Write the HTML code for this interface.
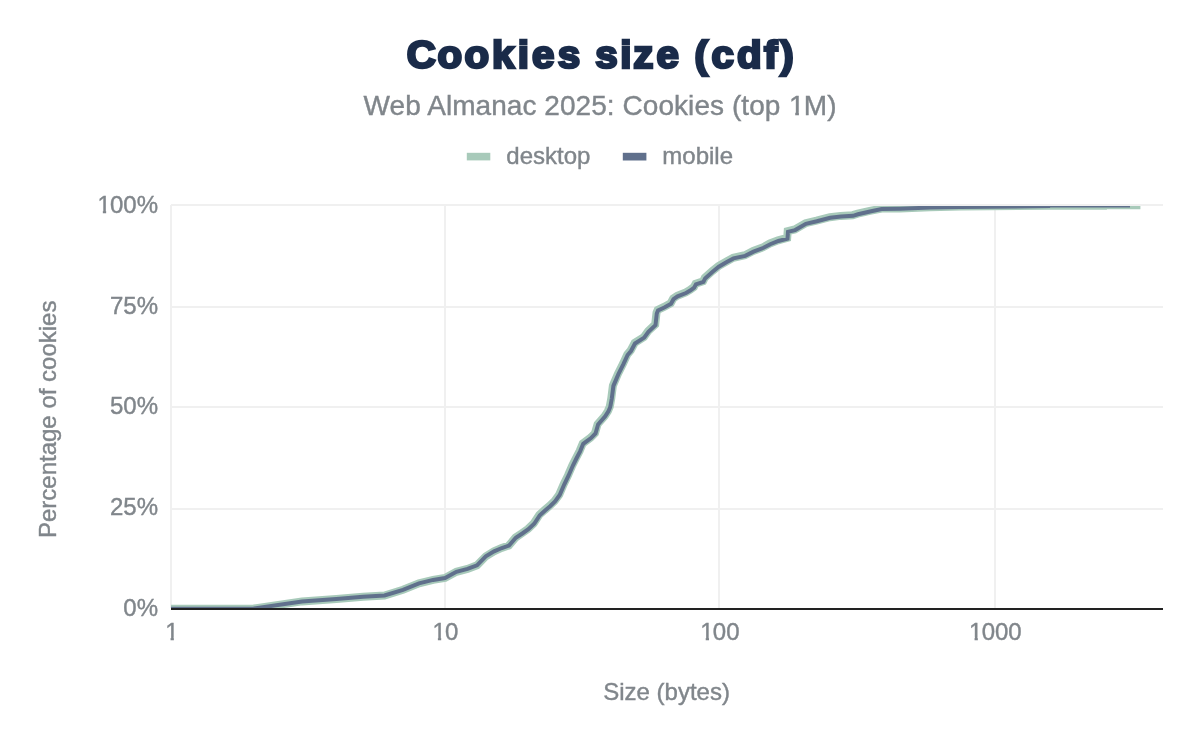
<!DOCTYPE html>
<html><head><meta charset="utf-8"><title>Cookies size (cdf)</title>
<style>
html,body{margin:0;padding:0;background:#fff;}
body{width:1200px;height:742px;overflow:hidden;}
svg{display:block;font-family:"Liberation Sans",Arial,Helvetica,sans-serif;}
.t{fill:#80868b;font-size:24px;stroke:#80868b;stroke-width:0.4px;}
</style></head><body>
<svg width="1200" height="742" viewBox="0 0 1200 742">
<rect width="1200" height="742" fill="#fff"/>
<text id="title" transform="scale(1.06,1)" x="383.77 412.85 438.21 464.22 488.56 501.93 526.18 546.93 561.56 585.21 597.48 619.41 640.17 655.12 671.34 695.28 720.68 736.2" y="68.4" font-size="38" font-weight="bold" fill="#1a2b49" stroke="#1a2b49" stroke-width="2.6" stroke-linejoin="miter" stroke-miterlimit="3">Cookies size (cdf)</text>
<text x="363.62" y="114.6" dx="0 0 0 0 0 0 0 0 0 0 0 0 0 0 0 0 0 0 0 0 0 0 0 0 0 0 0 0 0 0 0 0.8 -0.8" id="sub" font-size="28" fill="#80868b" stroke="#80868b" stroke-width="0.4" letter-spacing="0.05">Web Almanac 2025: Cookies (top 1M)</text>
<g id="legend">
<rect x="466.8" y="152.8" width="23.5" height="7.6" fill="#a8caba"/>
<text class="t" x="506.3" y="163.8">desktop</text>
<rect x="622.8" y="152.8" width="23.6" height="7.7" fill="#60708c"/>
<text class="t" x="662.3" y="163.8">mobile</text>
</g>
<g id="grid" fill="#f0f0f0">
<rect x="170" y="205" width="2" height="403"/>
<rect x="444" y="205" width="2" height="403"/>
<rect x="718" y="205" width="2" height="403"/>
<rect x="994" y="205" width="2" height="403"/>
<rect x="171" y="204" width="992" height="2"/>
<rect x="171" y="306" width="992" height="2"/>
<rect x="171" y="406" width="992" height="2"/>
<rect x="171" y="508" width="992" height="2"/>
</g>
<clipPath id="cp"><rect x="171" y="206" width="992" height="404"/></clipPath>
<g clip-path="url(#cp)" fill="none" stroke-linejoin="miter" stroke-miterlimit="2" stroke-linecap="butt">
<path d="M171.0,608.7 L253.8,608.5 L302.0,601.4 L336.4,598.9 L363.0,596.7 L384.5,595.5 L403.0,589.8 L419.0,583.4 L433.1,579.9 L445.0,578.0 L456.4,571.8 L467.5,568.9 L477.0,565.3 L485.8,556.3 L494.0,551.3 L501.6,547.9 L508.8,545.5 L515.5,537.6 L521.9,533.3 L528.0,529.0 L533.7,523.5 L539.3,514.9 L544.6,510.1 L549.6,505.9 L554.5,501.1 L559.2,494.7 L563.7,484.2 L568.0,475.4 L572.4,465.2 L575.9,458.2 L579.6,451.0 L582.7,443.5 L590.5,437.8 L595.0,433.2 L597.6,424.2 L604.7,416.1 L607.9,411.1 L609.8,406.5 L611.3,398.2 L612.9,385.6 L617.9,373.9 L623.1,363.6 L627.3,354.4 L630.7,350.4 L634.7,342.9 L643.9,337.0 L648.1,331.2 L655.2,324.5 L656.5,312.8 L657.7,309.9 L664.0,306.9 L670.7,303.2 L673.2,298.6 L677.3,295.7 L685.7,292.4 L689.9,290.0 L693.9,287.0 L695.6,283.7 L703.1,281.2 L704.8,277.8 L712.3,271.1 L718.5,266.1 L726.5,261.5 L733.2,257.8 L744.9,255.2 L753.2,251.0 L763.2,247.2 L769.9,243.5 L778.1,240.3 L787.2,237.9 L787.7,231.2 L794.8,229.4 L805.6,223.2 L816.5,220.7 L829.9,217.2 L840.7,215.9 L852.7,215.2 L857.7,213.7 L869.8,210.9 L881.6,208.6 L900.0,208.4 L930.0,207.3 L960.0,206.6 L1049.0,205.8 L1104.8,205.8 L1105.2,205.3 L1140.4,205.3" stroke="#a8caba" stroke-width="8"/>
<path d="M171.0,608.7 L253.8,608.5 L302.0,601.4 L336.4,598.9 L363.0,596.7 L384.5,595.5 L403.0,589.8 L419.0,583.4 L433.1,579.9 L445.0,578.0 L456.4,571.8 L467.5,568.9 L477.0,565.3 L485.8,556.3 L494.1,551.4 L501.8,548.0 L509.0,545.6 L515.8,537.8 L522.3,533.5 L528.4,529.2 L534.2,523.8 L539.8,515.2 L545.1,510.4 L550.1,506.2 L555.0,501.4 L559.7,495.0 L564.2,484.5 L568.5,475.7 L572.9,465.5 L576.4,458.5 L580.1,451.3 L583.2,443.8 L591.0,438.1 L595.5,433.5 L598.1,424.5 L605.2,416.4 L608.4,411.4 L610.3,406.8 L611.8,398.5 L613.4,385.9 L618.4,374.2 L623.4,364.2 L627.6,355.0 L631.0,351.0 L635.0,343.5 L644.2,337.6 L648.4,331.8 L655.5,325.1 L656.8,313.4 L658.0,310.5 L664.3,307.5 L671.0,303.8 L673.5,299.2 L677.6,296.3 L686.0,293.0 L690.2,290.6 L694.2,287.6 L695.9,284.3 L703.4,281.8 L705.1,278.4 L712.6,271.7 L718.8,266.7 L726.8,262.1 L733.5,258.4 L745.2,255.9 L753.5,251.7 L763.5,247.8 L770.2,244.2 L778.4,241.0 L787.5,238.6 L788.0,231.8 L795.1,230.1 L805.9,223.8 L816.8,221.3 L830.2,217.8 L841.0,216.6 L853.0,215.8 L858.0,214.3 L870.0,211.5 L881.7,209.1 L900.0,208.7 L930.0,207.6 L960.0,206.9 L1049.0,206.1 L1049.5,205.6 L1130.0,205.6" stroke="#60708c" stroke-width="4"/>
</g>
<rect x="171" y="608" width="992" height="2" fill="#222"/>
<g class="t">
<text x="96.62" y="213" dx="0.8 -0.8">100%</text>
<text x="109.96" y="314">75%</text>
<text x="109.96" y="414">50%</text>
<text x="109.96" y="515">25%</text>
<text x="123.31" y="616">0%</text>
</g>
<g class="t">
<text x="164.33" y="639.6" dx="0.8">1</text>
<text x="431.65" y="639.6" dx="0.8 -0.8">10</text>
<text x="699.48" y="639.6" dx="0.8 -0.8">100</text>
<text x="968.30" y="639.6" dx="0.8 -0.8">1000</text>
<text x="666.6" y="699.9" text-anchor="middle">Size (bytes)</text>
<text transform="translate(56.4,419.3) rotate(-90)" x="0" y="0" text-anchor="middle">Percentage of cookies</text>
</g>
<g id="masks" fill="#fff"><rect x="789.53" y="111.95" width="5.70" height="4.30"/><rect x="798.90" y="111.95" width="5.48" height="4.30"/><rect x="97.84" y="210.65" width="5.00" height="4.00"/><rect x="106.15" y="210.65" width="4.81" height="4.00"/><rect x="165.55" y="637.25" width="5.00" height="4.00"/><rect x="173.86" y="637.25" width="4.81" height="4.00"/><rect x="432.88" y="637.25" width="5.00" height="4.00"/><rect x="441.19" y="637.25" width="4.81" height="4.00"/><rect x="700.70" y="637.25" width="5.00" height="4.00"/><rect x="709.01" y="637.25" width="4.81" height="4.00"/><rect x="969.53" y="637.25" width="5.00" height="4.00"/><rect x="977.84" y="637.25" width="4.81" height="4.00"/></g>
</svg>
</body></html>
